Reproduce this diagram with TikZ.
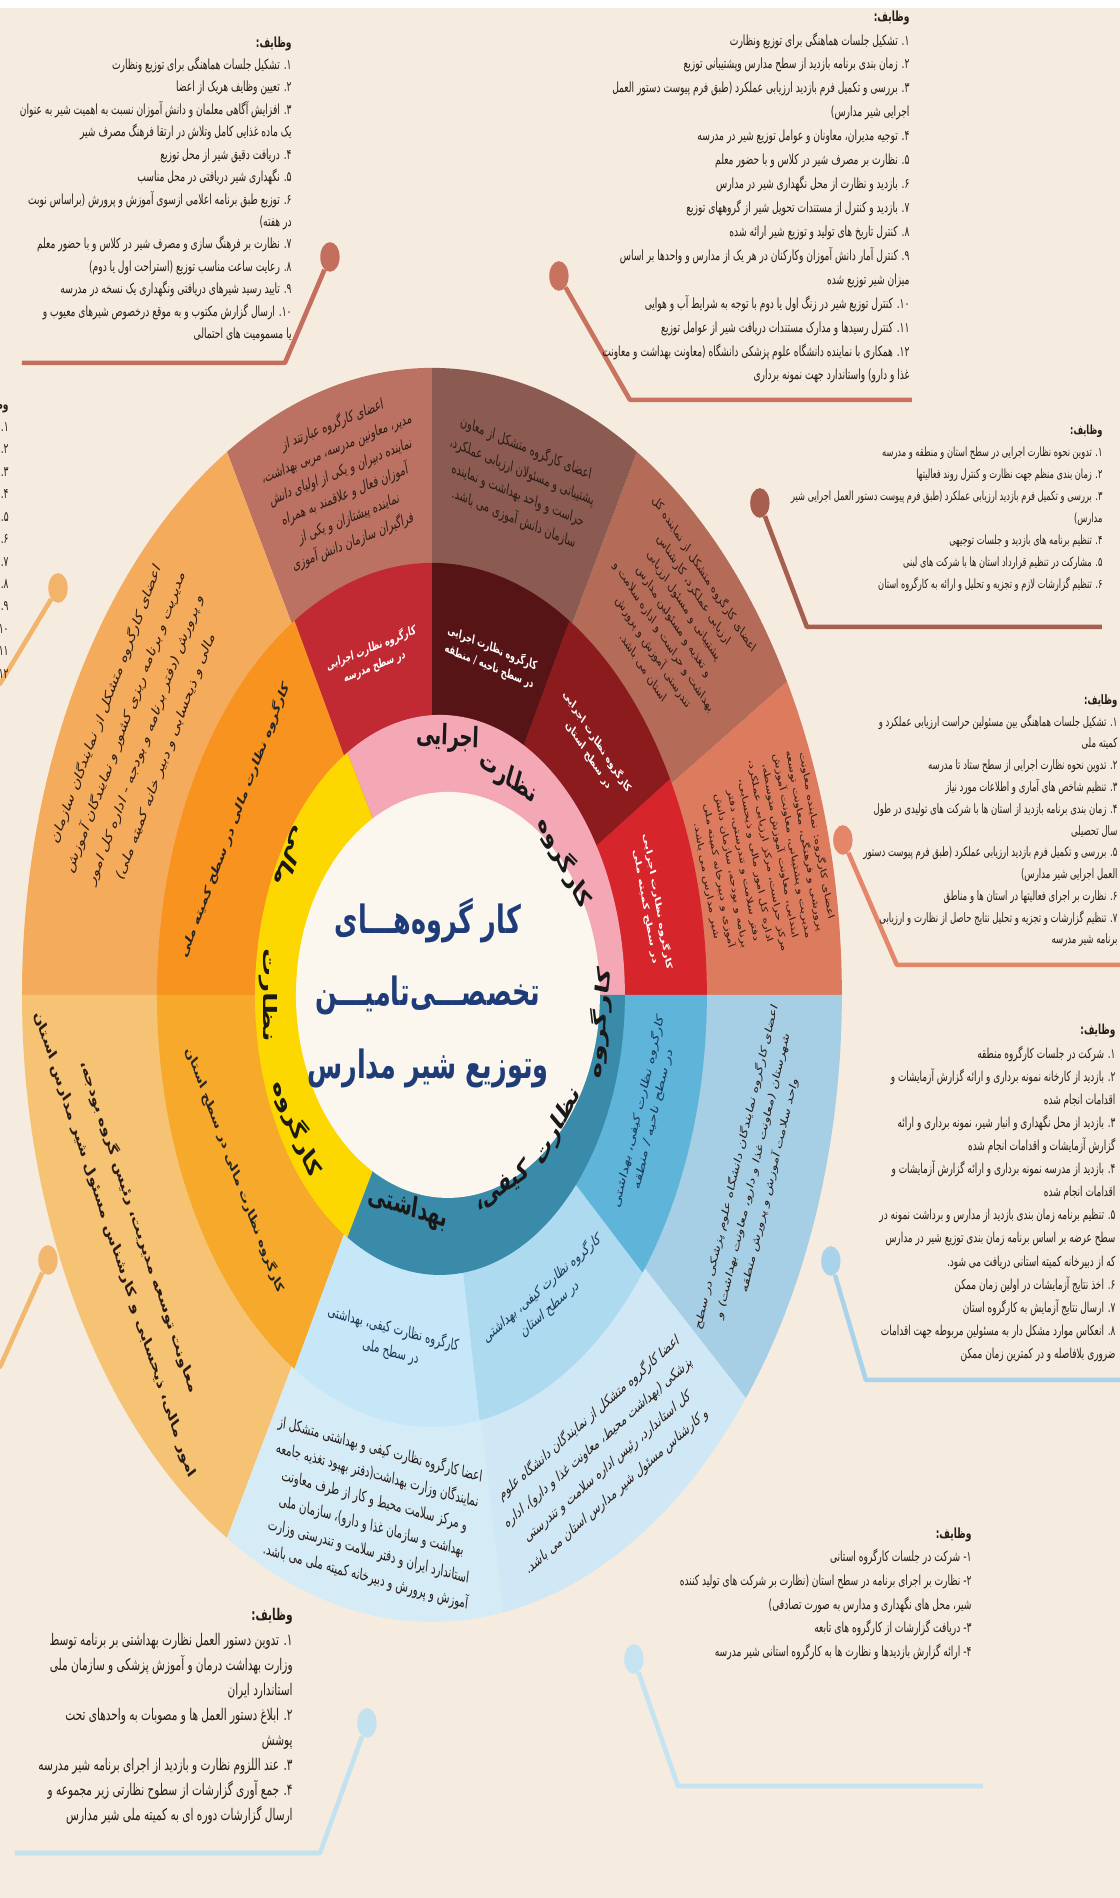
\documentclass[tikz,border=0pt]{standalone}
\usepackage{fontspec}
\newfontfamily\fa[Script=Arabic]{DejaVu Sans}
\TeXXeTstate=1
\newcommand\rl[1]{\beginR #1\endR}
\newcommand\pie[6]{\fill[#1] (#2) -- +({#3*cos(#5)},{#4*sin(#5)}) arc[start angle=#5, end angle=#6, x radius=#3, y radius=#4] -- cycle;}
\definecolor{bg}{HTML}{F5EBDF}
\definecolor{oK}{HTML}{DD7B5F}
\definecolor{oS}{HTML}{B46B58}
\definecolor{oN}{HTML}{8B5A50}
\definecolor{oM}{HTML}{BC7262}
\definecolor{mK}{HTML}{D6262C}
\definecolor{mS}{HTML}{8C1B1E}
\definecolor{mN}{HTML}{561416}
\definecolor{mM}{HTML}{C12A32}
\definecolor{pk}{HTML}{F4A8B6}
\definecolor{oOK}{HTML}{F4AB5C}
\definecolor{oOS}{HTML}{F6C374}
\definecolor{mOK}{HTML}{F7931E}
\definecolor{mOS}{HTML}{F6A92A}
\definecolor{yl}{HTML}{FDD700}
\definecolor{oBK}{HTML}{D5ECF7}
\definecolor{oBS}{HTML}{D0E8F5}
\definecolor{oBN}{HTML}{A6CEE4}
\definecolor{mBK}{HTML}{C5E7F7}
\definecolor{mBS}{HTML}{ADDAEF}
\definecolor{mBN}{HTML}{5FB4DA}
\definecolor{tl}{HTML}{3A8BAA}
\definecolor{wc}{HTML}{FBF6EE}
\definecolor{navy}{HTML}{1E3C78}
\definecolor{ink}{HTML}{2A1C16}
\definecolor{bnavy}{HTML}{1B3556}
\definecolor{cA}{HTML}{C46F5D}
\definecolor{cB}{HTML}{C8735F}
\definecolor{cC}{HTML}{A65E4F}
\definecolor{cD}{HTML}{E3866A}
\definecolor{cE}{HTML}{A9D3EA}
\definecolor{cF}{HTML}{C6E3F2}
\definecolor{cG}{HTML}{C4E1EF}
\definecolor{cH}{HTML}{F2B36A}
\definecolor{cI}{HTML}{F3B86F}
\begin{document}
\begin{tikzpicture}[x=0.02cm, y=0.0130719cm, yscale=1.53, transform shape,
  txt/.style={font=\fa\fontsize{5.2}{8.34}\selectfont, align=right, inner sep=0pt, anchor=north east, text=ink},
  wp/.style={font=\fa\fontsize{5.6}{9}\selectfont, align=center, inner sep=0pt, text=ink},
  lbl/.style={font=\fa\bfseries\fontsize{4.6}{7}\selectfont, align=center, inner sep=0pt, text=white},
  olbl/.style={font=\fa\bfseries\fontsize{5.8}{8}\selectfont, align=center, inner sep=0pt, text=black!85},
  blbl/.style={font=\fa\fontsize{5.8}{8.6}\selectfont, align=center, inner sep=0pt, text=bnavy},
  big/.style={font=\fa\bfseries\fontsize{10.5}{12}\selectfont, inner sep=0pt, text=black!90},
  cdot/.style={circle, fill=#1, minimum size=11pt, inner sep=0pt},
  cline/.style={line width=2.6pt, draw=#1, line join=round}]
\useasboundingbox (0,0) rectangle (1120,1898);
\clip (0,0) rectangle (1120,1898);
\fill[bg] (0,0) rectangle (1120,1898);
\fill[white] (0,1890) rectangle (1120,1898);
\coordinate (C) at (432,903);
\coordinate (CI) at (440,903);
\coordinate (CW) at (448,903);
% outer ring
\pie{oK}{C}{410}{627}{0}{30}
\pie{oS}{C}{410}{627}{30}{60}
\pie{oN}{C}{410}{627}{60}{90}
\pie{oM}{C}{410}{627}{90}{120}
\pie{oOK}{C}{410}{627}{120}{180}
\pie{oOS}{C}{410}{627}{180}{240}
\pie{oBK}{C}{410}{627}{240}{280}
\pie{oBS}{C}{410}{627}{280}{320}
\pie{oBN}{C}{410}{627}{320}{360}
% middle ring
\pie{mK}{C}{275}{432}{0}{30}
\pie{mS}{C}{275}{432}{30}{60}
\pie{mN}{C}{275}{432}{60}{90}
\pie{mM}{C}{275}{432}{90}{120}
\pie{mOK}{C}{275}{432}{120}{180}
\pie{mOS}{C}{275}{432}{180}{240}
\pie{mBK}{C}{275}{432}{240}{280}
\pie{mBS}{C}{275}{432}{280}{320}
\pie{mBN}{C}{275}{432}{320}{360}
% inner ring
\pie{pk}{CI}{185}{280}{0}{120}
\pie{yl}{CI}{185}{280}{120}{240}
\pie{tl}{CI}{185}{280}{240}{360}
\fill[wc] (CW) ellipse[x radius=152, y radius=203];

% centre title
\node[font=\fa\bfseries\fontsize{14.5}{27}\selectfont, align=center, inner sep=0pt, text=navy] (title) at (428,905)
 {\rl{کار گروه‌هـــای}\\\rl{تخصصـــی‌تامیـــن}\\\rl{وتوزیع شیر مدارس}};

% inner ring words
\node[big, rotate=-52] (p1) at (565,1036) {\rl{کارگروه}};
\node[big, rotate=-24] (p2) at (508,1120) {\rl{نظارت}};
\node[big, rotate=-3] (p3) at (448,1160) {\rl{اجرایی}};
\node[big, rotate=238] (y1) at (290,1040) {\rl{مالی}};
\node[big, rotate=270] (y2) at (268,903) {\rl{نظارت}};
\node[big, rotate=302] (y3) at (297,770) {\rl{کارگروه}};
\node[big, rotate=82] (t1) at (600,875) {\rl{کارگروه}};
\node[big, rotate=52] (t2) at (558,772) {\rl{نظارت}};
\node[big, rotate=24] (t3) at (502,712) {\rl{کیفی،}};
\node[big, rotate=348] (t4) at (408,690) {\rl{بهداشتی}};

% middle ring labels
\node[lbl, rotate=15] (mMl) at (373,1241) {\rl{کارگروه نظارت اجرایی}\\\rl{در سطح مدرسه}};
\node[lbl, rotate=-15] (mNl) at (491,1241) {\rl{کارگروه نظارت اجرایی}\\\rl{در سطح ناحیه / منطقه}};
\node[lbl, rotate=-45] (mSl) at (593,1150) {\rl{کارگروه نظارت اجرایی}\\\rl{در سطح استان}};
\node[lbl, rotate=-75] (mKl) at (652,994) {\rl{کارگروه نظارت اجرایی}\\\rl{در سطح کمیته ملی}};
\node[olbl, rotate=60] (mOKl) at (235,1078) {\rl{کارگروه نظارت مالی در سطح کمیته ملی}};
\node[olbl, rotate=300] (mOSl) at (235,728) {\rl{کارگروه نظارت مالی در سطح استان}};
\node[blbl, rotate=350] (mBKl) at (392,558) {\rl{کارگروه نظارت کیفی، بهداشتی}\\\rl{در سطح ملی}};
\node[blbl, rotate=30] (mBSl) at (546,600) {\rl{کارگروه نظارت کیفی، بهداشتی}\\\rl{در سطح استان}};
\node[blbl, rotate=70] (mBNl) at (646,783) {\rl{کارگروه نظارت کیفی، بهداشتی}\\\rl{در سطح ناحیه / منطقه}};

% outer ring paragraphs
\node[wp, rotate=15] (wOM) at (343,1415) {\rl{اعضای کارگروه عبارتند از}\\\rl{مدیر، معاونین مدرسه، مربی بهداشت،}\\\rl{نماینده دبیران و یکی از اولیای دانش}\\\rl{آموزان فعال و علاقمند به همراه}\\\rl{نماینده پیشتازان و یکی از}\\\rl{فراگیران سازمان دانش آموزی}};
\node[wp, rotate=-15] (wON) at (520,1415) {\rl{اعضای کارگروه متشکل از معاون}\\\rl{پشتیبانی و مسئولان ارزیابی عملکرد،}\\\rl{حراست و واحد بهداشت و نماینده}\\\rl{سازمان دانش آموزی می باشد.}};
\node[wp, font=\fa\fontsize{5.2}{8.2}\selectfont, rotate=-45] (wOS) at (674,1278) {\rl{اعضای کارگروه متشکل از نماینده کل}\\\rl{ارزیابی عملکرد، کارشناس}\\\rl{پشتیبانی و مسئول ارزیابی}\\\rl{و تغذیه و مسئولین مدارس}\\\rl{بهداشت و حراست و اداره سلامت و}\\\rl{تندرستی آموزش و پرورش}\\\rl{استان می باشد.}};
\node[wp, font=\fa\fontsize{4.8}{7.2}\selectfont, rotate=-75] (wOK) at (762,1040) {\rl{اعضای کارگروه: نماینده معاونت}\\\rl{پرورشی و فرهنگی، معاونت توسعه}\\\rl{مدیریت و پشتیبانی، معاونت آموزش}\\\rl{ابتدایی، معاونت آموزش متوسطه،}\\\rl{مرکز حراست، مرکز ارزیابی عملکرد،}\\\rl{اداره کل امور مالی و ذیحسابی،}\\\rl{دفتر سلامت و تندرستی، دفتر}\\\rl{برنامه و بودجه، سازمان دانش}\\\rl{آموزی و دبیرخانه کمیته ملی}\\\rl{شیر مدارس می باشد.}};
\node[wp, font=\fa\fontsize{6.4}{13}\selectfont, rotate=60] (wOOK) at (136,1168) {\rl{اعضای کارگروه متشکل از نمایندگان سازمان}\\\rl{مدیریت و برنامه ریزی کشور و نمایندگان آموزش}\\\rl{و پرورش (دفتر برنامه و بودجه - اداره کل امور}\\\rl{مالی و ذیحسابی و دبیر خانه کمیته ملی)}};
\node[wp, font=\fa\bfseries\fontsize{6.6}{15}\selectfont, rotate=297] (wOOS) at (127,663) {\rl{معاونت توسعه مدیریت، رئیس گروه بودجه،}\\\rl{امور مالی، ذیحسابی و کارشناس مسئول شیر مدارس استان}};
\node[wp, font=\fa\fontsize{5.8}{9.6}\selectfont, rotate=350] (wOBK) at (373,385) {\rl{اعضا کارگروه نظارت کیفی و بهداشتی متشکل از}\\\rl{نمایندگان وزارت بهداشت(دفتر بهبود تغذیه جامعه}\\\rl{و مرکز سلامت محیط و کار از طرف معاونت}\\\rl{بهداشت و سازمان غذا و دارو)، سازمان ملی}\\\rl{استاندارد ایران و دفتر سلامت و تندرستی وزارت}\\\rl{آموزش و پرورش و دبیرخانه کمیته ملی می باشد.}};
\node[wp, font=\fa\fontsize{5.8}{10.5}\selectfont, rotate=30] (wOBS) at (603,444) {\rl{اعضا کارگروه متشکل از نمایندگان دانشگاه علوم}\\\rl{پزشکی (بهداشت محیط، معاونت غذا و دارو)، اداره}\\\rl{کل استاندارد، رئیس اداره سلامت و تندرستی}\\\rl{و کارشناس مسئول شیر مدارس استان می باشد.}};
\node[wp, font=\fa\fontsize{5.4}{10}\selectfont, rotate=70] (wOBN) at (753,722) {\rl{اعضای کارگروه نمایندگان دانشگاه علوم پزشکی در سطح}\\\rl{شهرستان (معاونت غذا و دارو، معاونت بهداشت) و}\\\rl{واحد سلامت آموزش و پرورش منطقه}};

% callout A
\node[cdot=cA] (dA) at (330,1641) {};
\coordinate (kA) at (285,1535); \coordinate (eA) at (22,1535);
\draw[cline=cA] (dA) -- (kA) -- (eA);
\node[txt] (tA) at (292,1862) {{\bfseries\rl{وظایف:}}\\
\rl{۱. تشکیل جلسات هماهنگی برای توزیع ونظارت}\\
\rl{۲. تعیین وظایف هریک از اعضا}\\
\rl{۳. افزایش آگاهی معلمان و دانش آموزان نسبت به اهمیت شیر به عنوان}\\
\rl{یک ماده غذایی کامل وتلاش در ارتقا فرهنگ مصرف شیر}\\
\rl{۴. دریافت دقیق شیر از محل توزیع}\\
\rl{۵. نگهداری شیر دریافتی در محل مناسب}\\
\rl{۶. توزیع طبق برنامه اعلامی ازسوی آموزش و پرورش (براساس نوبت}\\
\rl{در هفته)}\\
\rl{۷. نظارت بر فرهنگ سازی و مصرف شیر در کلاس و با حضور معلم}\\
\rl{۸. رعایت ساعت مناسب توزیع (استراحت اول یا دوم)}\\
\rl{۹. تایید رسید شیرهای دریافتی ونگهداری یک نسخه در مدرسه}\\
\rl{۱۰. ارسال گزارش مکتوب و به موقع درخصوص شیرهای معیوب و}\\
\rl{یا مسمومیت های احتمالی}};

% callout B
\node[cdot=cB] (dB) at (559,1622) {};
\coordinate (kB) at (630,1498); \coordinate (eB) at (912,1498);
\draw[cline=cB] (dB) -- (kB) -- (eB);
\node[txt, font=\fa\fontsize{5.2}{8.9}\selectfont] (tB) at (910,1888) {{\bfseries\rl{وظایف:}}\\
\rl{۱. تشکیل جلسات هماهنگی برای توزیع ونظارت}\\
\rl{۲. زمان بندی برنامه بازدید از سطح مدارس وپشتیبانی توزیع}\\
\rl{۳. بررسی و تکمیل فرم بازدید ارزیابی عملکرد (طبق فرم پیوست دستور العمل}\\
\rl{اجرایی شیر مدارس)}\\
\rl{۴. توجیه مدیران، معاونان و عوامل توزیع شیر در مدرسه}\\
\rl{۵. نظارت بر مصرف شیر در کلاس و با حضور معلم}\\
\rl{۶. بازدید و نظارت از محل نگهداری شیر در مدارس}\\
\rl{۷. بازدید و کنترل از مستندات تحویل شیر از گروههای توزیع}\\
\rl{۸. کنترل تاریخ های تولید و توزیع شیر ارائه شده}\\
\rl{۹. کنترل آمار دانش آموزان وکارکنان در هر یک از مدارس و واحدها بر اساس}\\
\rl{میزان شیر توزیع شده}\\
\rl{۱۰. کنترل توزیع شیر در زنگ اول یا دوم با توجه به شرایط آب و هوایی}\\
\rl{۱۱. کنترل رسیدها و مدارک مستندات دریافت شیر از عوامل توزیع}\\
\rl{۱۲. همکاری با نماینده دانشگاه علوم پزشکی دانشگاه (معاونت بهداشت و معاونت}\\
\rl{غذا و دارو) واستاندارد جهت نمونه برداری}};

% callout C
\node[cdot=cC] (dC) at (760,1395) {};
\coordinate (kC) at (807,1271); \coordinate (eC) at (1102,1271);
\draw[cline=cC] (dC) -- (kC) -- (eC);
\node[txt, font=\fa\fontsize{4.7}{8.2}\selectfont] (tC) at (1103,1474) {{\bfseries\rl{وظایف:}}\\
\rl{۱. تدوین نحوه نظارت اجرایی در سطح استان و منطقه و مدرسه}\\
\rl{۲. زمان بندی منظم جهت نظارت و کنترل روند فعالیتها}\\
\rl{۳. بررسی و تکمیل فرم بازدید ارزیابی عملکرد (طبق فرم پیوست دستور العمل اجرایی شیر}\\
\rl{مدارس)}\\
\rl{۴. تنظیم برنامه های بازدید و جلسات توجیهی}\\
\rl{۵. مشارکت در تنظیم قرارداد استان ها با شرکت های لبنی}\\
\rl{۶. تنظیم گزارشات لازم و تجزیه و تحلیل و ارائه به کارگروه استان}};

% callout D
\node[cdot=cD] (dD) at (843,1058) {};
\coordinate (kD) at (897,933); \coordinate (eD) at (1125,933);
\draw[cline=cD] (dD) -- (kD) -- (eD);
\node[txt, font=\fa\fontsize{4.85}{8.1}\selectfont] (tD) at (1118,1204) {{\bfseries\rl{وظایف:}}\\
\rl{۱. تشکیل جلسات هماهنگی بین مسئولین حراست ارزیابی عملکرد و}\\
\rl{کمیته ملی}\\
\rl{۲. تدوین نحوه نظارت اجرایی از سطح ستاد تا مدرسه}\\
\rl{۳. تنظیم شاخص های آماری و اطلاعات مورد نیاز}\\
\rl{۴. زمان بندی برنامه بازدید از استان ها با شرکت های تولیدی در طول}\\
\rl{سال تحصیلی}\\
\rl{۵. بررسی و تکمیل فرم بازدید ارزیابی عملکرد (طبق فرم پیوست دستور}\\
\rl{العمل اجرایی شیر مدارس)}\\
\rl{۶. نظارت بر اجرای فعالیتها در استان ها و مناطق}\\
\rl{۷. تنظیم گزارشات و تجزیه و تحلیل نتایج حاصل از نظارت و ارزیابی}\\
\rl{برنامه شیر مدرسه}};

% callout E
\node[cdot=cE] (dE) at (831,637) {};
\coordinate (kE) at (866,518); \coordinate (eE) at (1125,518);
\draw[cline=cE] (dE) -- (kE) -- (eE);
\node[txt, font=\fa\fontsize{5.1}{8.6}\selectfont] (tE) at (1116,874) {{\bfseries\rl{وظایف:}}\\
\rl{۱. شرکت در جلسات کارگروه منطقه}\\
\rl{۲. بازدید از کارخانه نمونه برداری و ارائه گزارش آزمایشات و}\\
\rl{اقدامات انجام شده}\\
\rl{۳. بازدید از محل نگهداری و انبار شیر، نمونه برداری و ارائه}\\
\rl{گزارش آزمایشات و اقدامات انجام شده}\\
\rl{۴. بازدید از مدرسه نمونه برداری و ارائه گزارش آزمایشات و}\\
\rl{اقدامات انجام شده}\\
\rl{۵. تنظیم برنامه زمان بندی بازدید از مدارس و برداشت نمونه در}\\
\rl{سطح عرضه بر اساس برنامه زمان بندی توزیع شیر در مدارس}\\
\rl{که از دبیرخانه کمیته استانی دریافت می شود.}\\
\rl{۶. اخذ نتایج آزمایشات در اولین زمان ممکن}\\
\rl{۷. ارسال نتایج آزمایش به کارگروه استان}\\
\rl{۸. انعکاس موارد مشکل دار به مسئولین مربوطه جهت اقدامات}\\
\rl{ضروری بلافاصله و در کمترین زمان ممکن}};

% callout F
\node[cdot=cF] (dF) at (634,239) {};
\coordinate (kF) at (678,112); \coordinate (eF) at (983,112);
\draw[cline=cF] (dF) -- (kF) -- (eF);
\node[txt, font=\fa\fontsize{5.2}{8.8}\selectfont] (tF) at (972,371) {{\bfseries\rl{وظایف:}}\\
\rl{۱- شرکت در جلسات کارگروه استانی}\\
\rl{۲- نظارت بر اجرای برنامه در سطح استان (نظارت بر شرکت های تولید کننده}\\
\rl{شیر، محل های نگهداری و مدارس به صورت تصادفی)}\\
\rl{۳- دریافت گزارشات از کارگروه های تابعه}\\
\rl{۴- ارائه گزارش بازدیدها و نظارت ها به کارگروه استانی شیر مدرسه}};

% callout G
\node[cdot=cG] (dG) at (367,175) {};
\coordinate (kG) at (320,45); \coordinate (eG) at (15,45);
\draw[cline=cG] (dG) -- (kG) -- (eG);
\node[txt, font=\fa\fontsize{6}{9.3}\selectfont] (tG) at (293,290) {{\bfseries\rl{وظایف:}}\\
\rl{۱. تدوین دستور العمل نظارت بهداشتی بر برنامه توسط}\\
\rl{وزارت بهداشت درمان و آموزش پزشکی و سازمان ملی}\\
\rl{استاندارد ایران}\\
\rl{۲. ابلاغ دستور العمل ها و مصوبات به واحدهای تحت}\\
\rl{پوشش}\\
\rl{۳. عند اللزوم نظارت و بازدید از اجرای برنامه شیر مدرسه}\\
\rl{۴. جمع آوری گزارشات از سطوح نظارتی زیر مجموعه و}\\
\rl{ارسال گزارشات دوره ای به کمیته ملی شیر مدارس}};

% callout H (left edge, mostly outside the page)
\node[cdot=cH] (dH) at (58,1310) {};
\coordinate (kH) at (0,1214); \coordinate (eH) at (-40,1214);
\draw[cline=cH] (dH) -- (kH) -- (eH);
\node[txt] (tH) at (9,1500) {{\bfseries\rl{وظایف:}}\\
\rl{۱. تامین و تخصیص اعتبارات برنامه}\\
\rl{۲. بررسی قراردادها}\\
\rl{۳. پرداخت به موقع مطالبات}\\
\rl{۴. نظارت بر هزینه کرد اعتبارات}\\
\rl{۵. تنظیم گزارش های مالی}\\
\rl{۶. بررسی اسناد و مدارک}\\
\rl{۷. کنترل صورتحساب ها}\\
\rl{۸. پیگیری تسویه حساب}\\
\rl{۹. هماهنگی با سازمان برنامه}\\
\rl{۱۰. ارائه گزارش به کمیته ملی}\\
\rl{۱۱. تنظیم بودجه سالانه}\\
\rl{۱۲. ارسال گزارش ها}};

% callout I
\node[cdot=cI] (dI) at (48,638) {};
\coordinate (kI) at (0,531); \coordinate (eI) at (-40,531);
\draw[cline=cI] (dI) -- (kI) -- (eI);
\end{tikzpicture}
\end{document}
